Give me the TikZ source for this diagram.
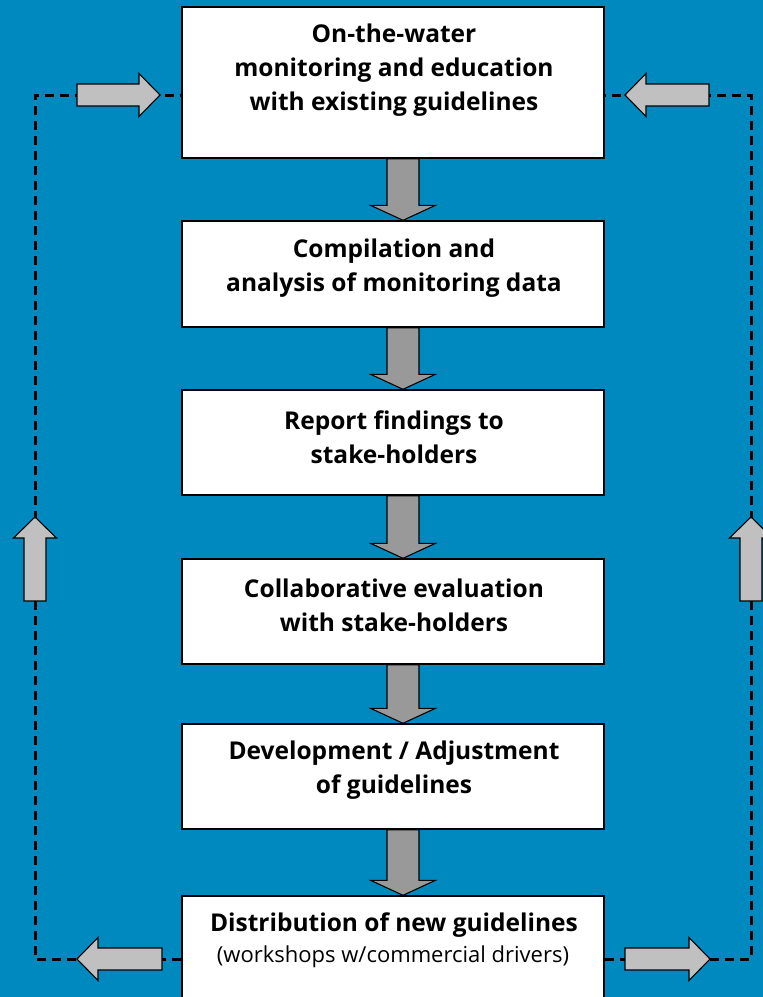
\documentclass[tikz,border=0pt]{standalone}
\usepackage{fontspec}
\setmainfont{Open Sans}
\usetikzlibrary{calc}
\definecolor{bg}{RGB}{0,137,190}
\definecolor{darkarrow}{RGB}{153,153,153}
\definecolor{lightarrow}{RGB}{192,192,192}
% #1 style, #2 tail, #3 tip, #4 dx, #5 dy, #6 shaft half width, #7 head half width, #8 head length
\newcommand\blockarrowgen[8]{%
  \draw[#1] ($(#2)+({-(#5)*(#6)},{(#4)*(#6)})$)
    -- ($(#3)+({-(#8)*(#4)-(#5)*(#6)},{-(#8)*(#5)+(#4)*(#6)})$)
    -- ($(#3)+({-(#8)*(#4)-(#5)*(#7)},{-(#8)*(#5)+(#4)*(#7)})$)
    -- (#3)
    -- ($(#3)+({-(#8)*(#4)+(#5)*(#7)},{-(#8)*(#5)-(#4)*(#7)})$)
    -- ($(#3)+({-(#8)*(#4)+(#5)*(#6)},{-(#8)*(#5)-(#4)*(#6)})$)
    -- ($(#2)+({(#5)*(#6)},{-(#4)*(#6)})$) -- cycle;}
\newcommand\bigarrow[2]{\blockarrowgen{bigarr}{#1}{#2}{0}{1}{16}{32.5}{15}}
\newcommand\sidearrow[4]{\blockarrowgen{sidearr}{#1}{#2}{#3}{#4}{11}{21.5}{21}}
\tikzset{
  box/.style={draw=black, line width=1.4pt, fill=white, minimum width=422pt, inner sep=0pt},
  txt/.style={align=center, font=\fontsize{24.5}{34}\selectfont\bfseries, inner sep=0pt},
  subtxt/.style={align=center, font=\fontsize{22}{26}\selectfont, inner sep=0pt},
  bigarr/.style={draw=black, line width=1.1pt, fill=darkarrow, line join=miter},
  sidearr/.style={draw=black, line width=1.1pt, fill=lightarrow, line join=miter},
  loop/.style={draw=black, line width=3pt, dash pattern=on 9pt off 6pt},
}
\begin{document}
\begin{tikzpicture}[x=1pt, y=-1pt]
\useasboundingbox (0,0) rectangle (763,997);
\clip (0,0) rectangle (763,997);
\fill[bg] (0,0) rectangle (763,997);
% boxes
\node[box, minimum height=151pt] (b1) at (393,82.5) {};
\node[box, minimum height=106pt] (b2) at (393,274) {};
\node[box, minimum height=105pt] (b3) at (393,442.5) {};
\node[box, minimum height=105pt] (b4) at (393,611.5) {};
\node[box, minimum height=105pt] (b5) at (393,776.5) {};
\node[box, minimum height=114pt] (b6) at (393,953) {};
% texts
\node[txt] (t1) at (394,70.5) {On-the-water\\monitoring and education\\with existing guidelines};
\node[txt] (t2) at (394,268) {Compilation and\\analysis of monitoring data};
\node[txt] (t3) at (394,437) {Report findings to\\stake-holders};
\node[txt] (t4) at (394,605.5) {Collaborative evaluation\\with stake-holders};
\node[txt] (t5) at (394,770) {Development / Adjustment\\of guidelines};
\node[txt] (t6) at (394,925.5) {Distribution of new guidelines};
\node[subtxt] (t7) at (393,957) {(workshops w/commercial drivers)};
% dashed feedback loops
\coordinate (lt) at (35,95);
\coordinate (lb) at (35,959);
\coordinate (rt) at (751,95);
\coordinate (rb) at (751,959);
\draw[loop] (b6.west |- lb) -- (lb) -- (lt) -- (b1.west |- lt);
\draw[loop] (b6.east |- rb) -- (rb) -- (rt) -- (b1.east |- rt);
% down arrows between boxes
\foreach \a/\b in {b1/b2, b2/b3, b3/b4, b4/b5, b5/b6}{
  \coordinate (\a tail) at ($(\a.south)+(10,0)$);
  \coordinate (\b tip) at ($(\b.north)+(10,0)$);
  \bigarrow{\a tail}{\b tip}
}
% side arrows
\coordinate (ltA) at (77,95);   \coordinate (ltB) at (160,95);
\coordinate (rtA) at (709,95);  \coordinate (rtB) at (625,95);
\coordinate (lbA) at (162,959); \coordinate (lbB) at (77,959);
\coordinate (rbA) at (625,959); \coordinate (rbB) at (710,959);
\coordinate (luA) at (35,601);  \coordinate (luB) at (35,517);
\coordinate (ruA) at (751,601); \coordinate (ruB) at (751,517);
\sidearrow{ltA}{ltB}{1}{0}
\sidearrow{rtA}{rtB}{-1}{0}
\sidearrow{lbA}{lbB}{-1}{0}
\sidearrow{rbA}{rbB}{1}{0}
\sidearrow{luA}{luB}{0}{-1}
\sidearrow{ruA}{ruB}{0}{-1}
\end{tikzpicture}
\end{document}
